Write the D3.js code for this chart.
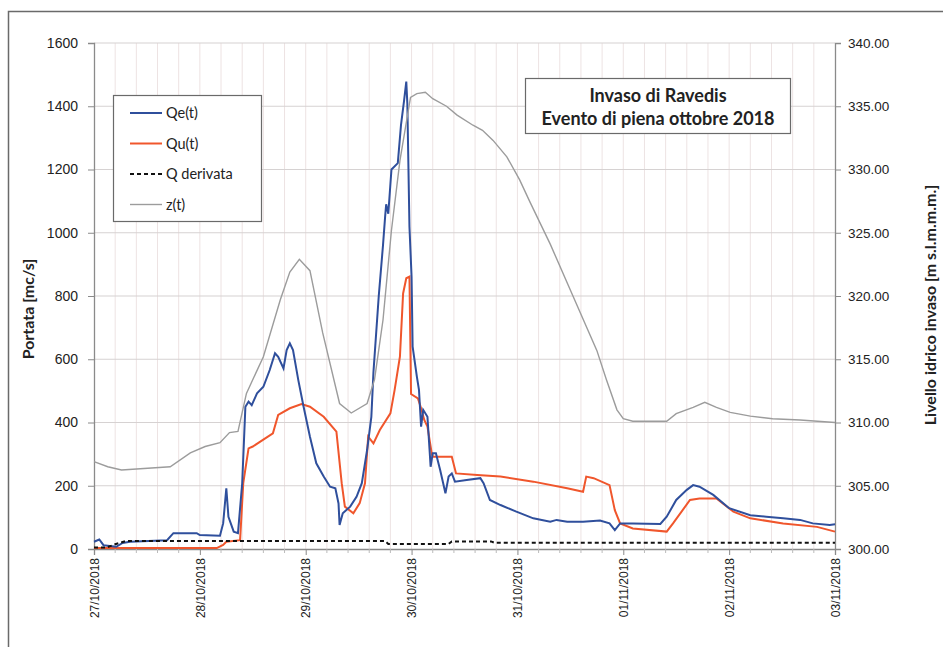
<!DOCTYPE html>
<html>
<head>
<meta charset="utf-8">
<script src="https://cdn.jsdelivr.net/npm/d3@7"></script>
<style>
  body { margin: 0; background: #fff; }
  svg { font-family: Lato, "Open Sans", sans-serif; }
</style>
</head>
<body>
<div id="chart"></div>
<script>
// days elapsed since 27/10/2018 00:00
const dateLabels = ["27/10/2018", "28/10/2018", "29/10/2018", "30/10/2018", "31/10/2018", "01/11/2018", "02/11/2018", "03/11/2018"];
const leftTicks = [0, 200, 400, 600, 800, 1000, 1200, 1400, 1600];
const rightTicks = [300, 305, 310, 315, 320, 325, 330, 335, 340];

// Qe(t) - portata entrante
const qeT = [0.0, 0.05, 0.09, 0.21, 0.27, 0.34, 0.69, 0.75, 0.97, 1.0, 1.19, 1.22, 1.25, 1.27, 1.32, 1.36, 1.40, 1.43, 1.46, 1.49, 1.54, 1.60, 1.66, 1.71, 1.74, 1.79, 1.82, 1.85, 1.88, 1.93, 1.98, 2.04, 2.10, 2.17, 2.23, 2.28, 2.31, 2.32, 2.35, 2.42, 2.48, 2.53, 2.58, 2.62, 2.64, 2.69, 2.73, 2.75, 2.76, 2.78, 2.81, 2.87, 2.90, 2.93, 2.95, 2.96, 2.98, 3.0, 3.01, 3.05, 3.07, 3.09, 3.11, 3.15, 3.17, 3.18, 3.20, 3.23, 3.27, 3.32, 3.35, 3.38, 3.41, 3.52, 3.65, 3.68, 3.74, 3.84, 3.99, 4.15, 4.31, 4.37, 4.47, 4.62, 4.78, 4.87, 4.92, 4.97, 5.09, 5.35, 5.41, 5.50, 5.60, 5.66, 5.72, 5.85, 6.0, 6.20, 6.35, 6.51, 6.67, 6.79, 6.95, 7.0];
const qeV = [23, 30, 12, 7, 19, 23, 28, 50, 50, 44, 42, 81, 192, 102, 55, 50, 208, 450, 466, 455, 492, 513, 566, 619, 608, 571, 629, 650, 629, 534, 450, 355, 271, 229, 197, 192, 144, 76, 113, 134, 165, 208, 313, 418, 560, 800, 960, 1050, 1090, 1060, 1200, 1220, 1340, 1420, 1478, 1409, 1019, 861, 640, 545, 503, 387, 440, 418, 313, 260, 303, 303, 250, 176, 229, 239, 213, 218, 224, 208, 155, 139, 118, 97, 86, 92, 86, 86, 90, 81, 60, 81, 81, 79, 102, 155, 187, 202, 197, 171, 129, 107, 102, 97, 92, 81, 76, 78];

// Qu(t) - portata uscente
const quT = [0.0, 1.16, 1.22, 1.25, 1.38, 1.41, 1.46, 1.50, 1.69, 1.74, 1.85, 1.96, 2.04, 2.17, 2.29, 2.34, 2.37, 2.45, 2.51, 2.56, 2.59, 2.64, 2.70, 2.80, 2.84, 2.89, 2.92, 2.95, 2.98, 2.995, 3.06, 3.09, 3.12, 3.15, 3.19, 3.20, 3.38, 3.42, 3.62, 3.84, 4.15, 4.47, 4.62, 4.65, 4.72, 4.87, 4.92, 4.97, 5.09, 5.41, 5.47, 5.63, 5.72, 5.88, 6.04, 6.20, 6.51, 6.83, 7.0];
const quV = [3, 3, 13, 23, 28, 208, 318, 324, 366, 424, 445, 458, 450, 418, 371, 208, 134, 113, 145, 208, 355, 334, 376, 429, 503, 608, 808, 856, 861, 490, 476, 445, 408, 387, 303, 292, 292, 239, 234, 229, 213, 192, 181, 229, 224, 202, 123, 81, 65, 55, 81, 155, 160, 160, 118, 97, 81, 70, 55];

// Q derivata
const qdT = [0.0, 0.12, 0.2, 0.3, 2.75, 2.78, 3.35, 3.38, 3.75, 3.78, 7.0];
const qdV = [5, 5, 15, 25, 25, 16, 16, 24, 24, 20, 20];

// z(t) - livello invaso [m s.l.m.]
const zT = [0.0, 0.13, 0.26, 0.72, 0.91, 1.05, 1.19, 1.28, 1.36, 1.44, 1.60, 1.76, 1.85, 1.94, 2.04, 2.16, 2.32, 2.43, 2.58, 2.65, 2.73, 2.81, 2.89, 2.99, 3.05, 3.13, 3.20, 3.33, 3.43, 3.58, 3.67, 3.77, 3.90, 4.02, 4.12, 4.31, 4.54, 4.75, 4.84, 4.94, 5.0, 5.09, 5.41, 5.50, 5.66, 5.77, 5.88, 6.01, 6.20, 6.41, 6.67, 7.0];
const zV = [306.9, 306.5, 306.25, 306.5, 307.6, 308.1, 308.4, 309.2, 309.3, 312.3, 315.2, 319.7, 321.9, 322.9, 322.0, 317.1, 311.5, 310.75, 311.5, 313.4, 318.1, 325.2, 330.7, 335.7, 336.0, 336.1, 335.6, 335.0, 334.3, 333.5, 333.1, 332.3, 331.0, 329.2, 327.4, 324.1, 319.7, 315.7, 313.4, 311.0, 310.3, 310.1, 310.1, 310.7, 311.2, 311.6, 311.2, 310.8, 310.5, 310.3, 310.2, 310.0];

const W = 943, H = 647;
const margin = { top: 43, right: 108, bottom: 98, left: 94 };
const x0 = margin.left, x1 = W - margin.right;
const y0 = margin.top, y1 = H - margin.bottom;

const svg = d3.select("#chart").append("svg")
  .attr("width", W)
  .attr("height", H);

// outer frame
svg.append("rect")
  .attr("x", 8.5).attr("y", 11.5)
  .attr("width", 1000).attr("height", 1000)
  .attr("fill", "none")
  .attr("stroke", "#6a6a6a")
  .attr("stroke-width", 1.5);

const x = d3.scaleLinear().domain([0, 7]).range([x0, x1]);
const yQ = d3.scaleLinear().domain([0, 1600]).range([y1, y0]);
const yZ = d3.scaleLinear().domain([300, 340]).range([y1, y0]);

// grid
const vGrid = d3.range(1, 35).map((i) => i * 0.2);
svg.append("g")
  .selectAll("line")
  .data(vGrid)
  .join("line")
  .attr("x1", (d) => x(d)).attr("x2", (d) => x(d))
  .attr("y1", y0).attr("y2", y1)
  .attr("stroke", "#ede3e3")
  .attr("stroke-width", 1);

svg.append("g")
  .selectAll("line")
  .data(leftTicks.slice(1))
  .join("line")
  .attr("x1", x0).attr("x2", x1)
  .attr("y1", (d) => yQ(d)).attr("y2", (d) => yQ(d))
  .attr("stroke", "#d6d2d2")
  .attr("stroke-width", 1.2);

// axes
const axisColor = "#8a8a8a";

const yAxisL = svg.append("g")
  .attr("transform", `translate(${x0},0)`)
  .call(d3.axisLeft(yQ).tickValues(leftTicks).tickSize(6).tickPadding(10).tickFormat(d3.format("d")));

const yAxisR = svg.append("g")
  .attr("transform", `translate(${x1},0)`)
  .call(d3.axisRight(yZ).tickValues(rightTicks).tickSize(6).tickPadding(7).tickFormat(d3.format(".2f")));

const xAxis = svg.append("g")
  .attr("transform", `translate(0,${y1})`)
  .call(d3.axisBottom(x).tickValues(d3.range(0, 8)).tickSize(6).tickFormat((d) => dateLabels[d]));

// minor ticks on the time axis
svg.append("g")
  .selectAll("line")
  .data(vGrid.filter((d) => Math.abs(d - Math.round(d)) > 0.01))
  .join("line")
  .attr("x1", (d) => x(d)).attr("x2", (d) => x(d))
  .attr("y1", y1).attr("y2", y1 + 4)
  .attr("stroke", "#bbb");

[yAxisL, yAxisR, xAxis].forEach((g) => {
  g.select(".domain").attr("stroke", axisColor).attr("stroke-width", 1.3);
  g.selectAll(".tick line").attr("stroke", axisColor);
  g.selectAll("text").attr("fill", "#222");
});
yAxisL.selectAll("text").style("font-size", "14px");
yAxisR.selectAll("text").style("font-size", "13.5px");

xAxis.selectAll("text")
  .style("font-size", "12px")
  .attr("transform", "rotate(-90)")
  .attr("text-anchor", "end")
  .attr("x", -9)
  .attr("y", 0)
  .attr("dy", "0.35em");

// series
const lineQ = d3.line().x((d) => x(d[0])).y((d) => yQ(d[1]));
const lineZ = d3.line().x((d) => x(d[0])).y((d) => yZ(d[1]));

const qeColor = "#2f4f9c";
const quColor = "#f0562c";
const zColor = "#9c9c9c";

svg.append("path")
  .datum(d3.zip(quT, quV))
  .attr("d", lineQ)
  .attr("fill", "none")
  .attr("stroke", quColor)
  .attr("stroke-width", 2);

svg.append("path")
  .datum(d3.zip(qeT, qeV))
  .attr("d", lineQ)
  .attr("fill", "none")
  .attr("stroke", qeColor)
  .attr("stroke-width", 2);

svg.append("path")
  .datum(d3.zip(qdT, qdV))
  .attr("d", lineQ)
  .attr("fill", "none")
  .attr("stroke", "#111")
  .attr("stroke-width", 2)
  .attr("stroke-dasharray", "4,3");

svg.append("path")
  .datum(d3.zip(zT, zV))
  .attr("d", lineZ)
  .attr("fill", "none")
  .attr("stroke", zColor)
  .attr("stroke-width", 1.4);

// axis titles
svg.append("text")
  .attr("transform", `translate(28,${(y0 + y1) / 2 + 13}) rotate(-90)`)
  .attr("text-anchor", "middle")
  .attr("dy", "0.35em")
  .style("font-size", "16px")
  .style("font-weight", "bold")
  .attr("fill", "#222")
  .text("Portata [mc/s]");

svg.append("text")
  .attr("transform", `translate(930,${(y0 + y1) / 2 + 9}) rotate(-90)`)
  .attr("text-anchor", "middle")
  .attr("dy", "0.35em")
  .style("font-size", "16px")
  .style("font-weight", "bold")
  .attr("fill", "#222")
  .text("Livello idrico invaso [m s.l.m.m.m.]");

// legend
const legendItems = [
  { label: "Qe(t)", color: qeColor, dash: null, width: 2 },
  { label: "Qu(t)", color: quColor, dash: null, width: 2 },
  { label: "Q derivata", color: "#111", dash: "4,3", width: 2 },
  { label: "z(t)", color: zColor, dash: null, width: 1.4 },
];

const legend = svg.append("g").attr("transform", "translate(113,95)");
legend.append("rect")
  .attr("x", 0.5).attr("y", 0.5)
  .attr("width", 148).attr("height", 126)
  .attr("fill", "#fff")
  .attr("stroke", "#6a6a6a")
  .attr("stroke-width", 1.2);

const li = legend.selectAll(".li")
  .data(legendItems)
  .join("g")
  .attr("transform", (d, i) => `translate(0,${18 + i * 30.5})`);

li.append("line")
  .attr("x1", 17).attr("x2", 49)
  .attr("stroke", (d) => d.color)
  .attr("stroke-width", (d) => d.width)
  .attr("stroke-dasharray", (d) => d.dash);

li.append("text")
  .attr("x", 53)
  .attr("dy", "0.35em")
  .style("font-size", "14.5px")
  .attr("fill", "#222")
  .text((d) => d.label);

// title box
const title = svg.append("g").attr("transform", "translate(525,78)");
title.append("rect")
  .attr("x", 0.5).attr("y", 0.5)
  .attr("width", 265).attr("height", 55)
  .attr("fill", "#fff")
  .attr("stroke", "#6a6a6a")
  .attr("stroke-width", 1.2);

title.selectAll("text")
  .data(["Invaso di Ravedis", "Evento di piena ottobre 2018"])
  .join("text")
  .attr("x", 133)
  .attr("y", (d, i) => 18 + i * 23)
  .attr("text-anchor", "middle")
  .attr("dy", "0.35em")
  .style("font-size", "18px")
  .style("font-weight", "bold")
  .attr("fill", "#222")
  .text((d) => d);
</script>
</body>
</html>
